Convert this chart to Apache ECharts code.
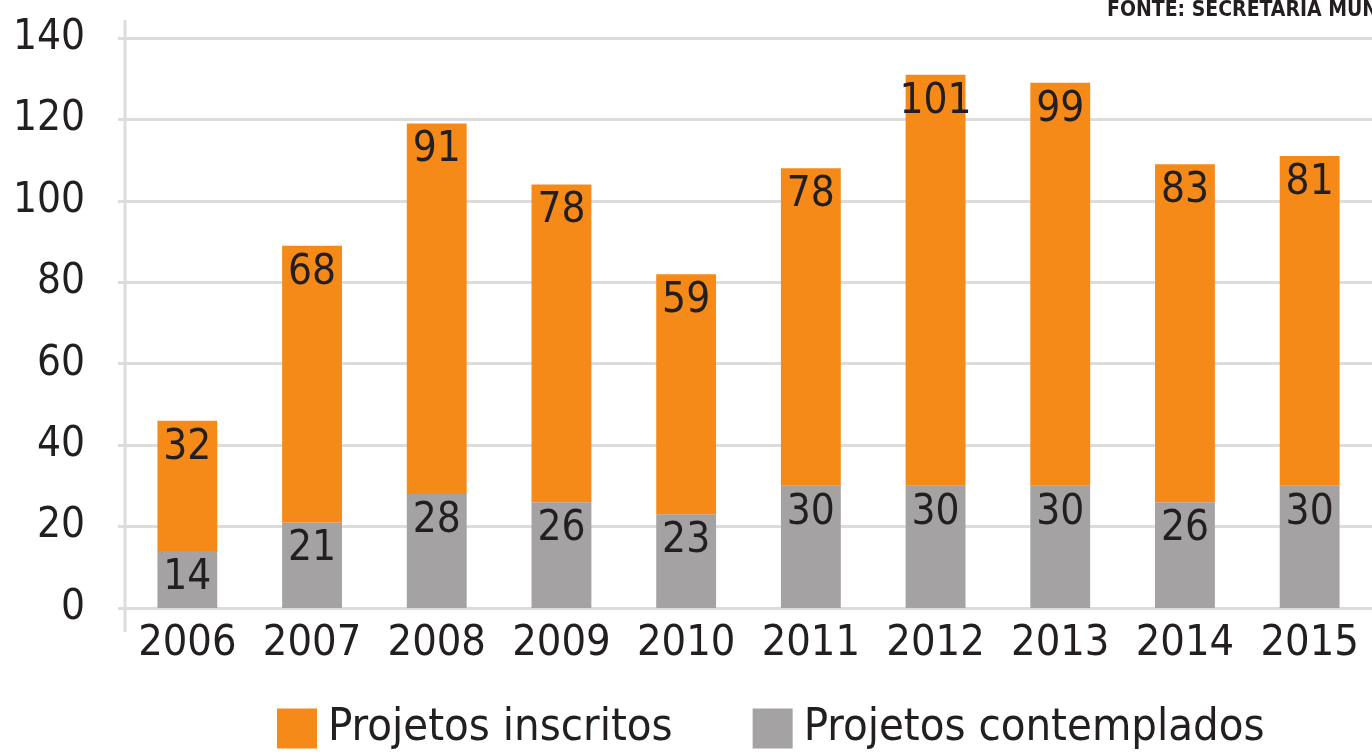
<!DOCTYPE html>
<html>
<head>
<meta charset="utf-8">
<script src="https://cdn.jsdelivr.net/npm/echarts@6/dist/echarts.min.js"></script>
<style>
  html, body { margin: 0; padding: 0; background: #fff; }
  #chart { width: 1372px; height: 755px; }
</style>
</head>
<body>
<div id="chart"></div>
<script>
// categories and values
var years = ["2006", "2007", "2008", "2009", "2010", "2011", "2012", "2013", "2014", "2015"];
var contemplados = [14, 21, 28, 26, 23, 30, 30, 30, 26, 30];
var inscritos = [32, 68, 91, 78, 59, 78, 101, 99, 83, 81];
var yTicks = [0, 20, 40, 60, 80, 100, 120, 140];

var FONT = "'DejaVu Sans Condensed', 'Liberation Sans Narrow', sans-serif";
var ORANGE = "#f58a18";
var GRAY = "#a4a2a3";
var INK = "#231f20";

var myChart = echarts.init(document.getElementById("chart"));
myChart.setOption({
  animation: false,
  grid: {
    left: 125,
    right: -2,
    top: 38,
    bottom: 147,
  },
  legend: {
    data: ["Projetos inscritos", "Projetos contemplados"],
    bottom: -1,
    left: 272,
    itemWidth: 40,
    itemHeight: 40,
    itemGap: 80,
    icon: "rect",
    textStyle: {
      fontFamily: FONT,
      fontSize: 45,
      color: INK,
      padding: [0, 0, 0, 6],
    },
  },
  graphic: [
    {
      type: "text",
      left: 1107,
      top: 0,
      style: {
        text: "FONTE: SECRETARIA MUNICIPAL DE CULTURA",
        fontFamily: FONT,
        fontWeight: "bold",
        fontSize: 21,
        fill: INK,
      },
    },
    {
      type: "line",
      shape: { x1: 125, y1: 20, x2: 125, y2: 632 },
      style: { stroke: "#dcdcdc", lineWidth: 3 },
    },
  ],
  xAxis: {
    type: "category",
    data: years,
    axisLine: { show: false },
    axisTick: { show: false },
    axisLabel: {
      interval: 0,
      fontFamily: FONT,
      fontSize: 43,
      color: INK,
      margin: 14,
    },
  },
  yAxis: {
    type: "value",
    min: yTicks[0],
    max: yTicks[yTicks.length - 1],
    interval: 20,
    axisLine: { show: false },
    axisTick: {
      show: true,
      length: 7,
      lineStyle: { color: "#dcdcdc", width: 3 },
    },
    splitLine: {
      lineStyle: { color: "#dcdcdc", width: 3 },
    },
    axisLabel: {
      fontFamily: FONT,
      fontSize: 42,
      color: INK,
      margin: 40,
    },
  },
  series: [
    {
      name: "Projetos contemplados",
      type: "bar",
      stack: "total",
      barWidth: "48%",
      data: contemplados,
      itemStyle: { color: GRAY },
      label: {
        show: true,
        position: "insideTop",
        distance: 6,
        fontFamily: FONT,
        fontSize: 42,
        color: INK,
      },
    },
    {
      name: "Projetos inscritos",
      type: "bar",
      stack: "total",
      barWidth: "48%",
      data: inscritos,
      itemStyle: { color: ORANGE },
      label: {
        show: true,
        position: "insideTop",
        distance: 6,
        fontFamily: FONT,
        fontSize: 42,
        color: INK,
      },
    },
  ],
});
</script>
</body>
</html>
